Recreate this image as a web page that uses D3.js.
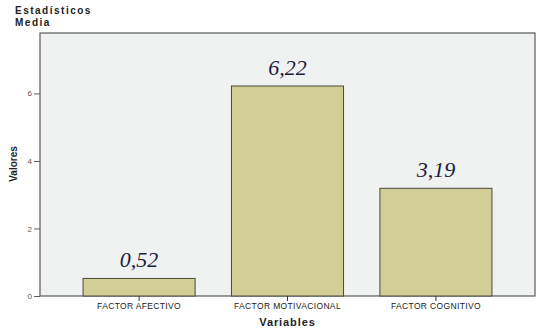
<!DOCTYPE html>
<html>
<head>
<meta charset="utf-8">
<script src="https://cdn.jsdelivr.net/npm/d3@7"></script>
<style>
  body { margin: 0; background: #fff; }
  svg { display: block; }
</style>
</head>
<body>
<div id="chart"></div>
<script>
    //Data
    var categories = ["FACTOR AFECTIVO", "FACTOR MOTIVACIONAL", "FACTOR COGNITIVO"];
    var values = [0.52, 6.22, 3.19];
    var valueLabels = ["0,52", "6,22", "3,19"];
    var yTicks = [0, 2, 4, 6];

    //Width, height and margins
    var width = 546, height = 334;
    var margin = {top: 33, right: 11, bottom: 38, left: 40};
    var sans = "'Liberation Sans', Arial, sans-serif";

    var svg = d3.select("#chart")
        .append("svg")
        .attr("width", width)
        .attr("height", height)

    //Scales
    var xScale = d3.scaleBand()
        .domain(categories)
        .range([margin.left, width - margin.right])
        .paddingInner(0.245)
        .paddingOuter(0.29)

    var yScale = d3.scaleLinear()
        .domain([0, 7.79])
        .range([height - margin.bottom, margin.top])

    //Plot background
    svg.append("rect")
        .attr("x", margin.left)
        .attr("y", margin.top)
        .attr("width", width - margin.left - margin.right)
        .attr("height", height - margin.top - margin.bottom)
        .attr("fill", "#f0f1f1")
        .attr("stroke", "#5c5c5c")
        .attr("stroke-width", 1.2)

    //Bars
    svg.append("g")
        .attr("class", "bars")
        .selectAll("rect")
        .data(values)
        .enter()
        .append("rect")
            .attr("x", (d, i) => xScale(categories[i]))
            .attr("y", d => yScale(d))
            .attr("width", xScale.bandwidth())
            .attr("height", d => yScale(0) - yScale(d))
            .attr("fill", "#d2cf96")
            .attr("stroke", "#4a4a40")
            .attr("stroke-width", 1)

    //Value labels
    svg.append("g")
        .attr("class", "valueLabels")
        .selectAll("text")
        .data(values)
        .enter()
        .append("text")
            .attr("x", (d, i) => xScale(categories[i]) + xScale.bandwidth() / 2)
            .attr("y", d => yScale(d) - 11)
            .attr("text-anchor", "middle")
            .text((d, i) => valueLabels[i])
                .style("font-family", "'Liberation Serif', 'DejaVu Serif', serif")
                .style("font-style", "italic")
                .style("font-size", "22px")
                .style("fill", "#1c1c38")

    //Y axis
    var yAxis = d3.axisLeft(yScale)
        .tickValues(yTicks)
        .tickSize(6)
        .tickPadding(2)
        .tickFormat(d3.format("d"))

    var gy = svg.append("g")
        .attr("transform", "translate(" + margin.left + ",0)")
        .call(yAxis)
    gy.select(".domain").remove()
    gy.selectAll("line").attr("stroke", "#5c5c5c")
    gy.selectAll("text")
        .style("font-family", sans)
        .style("font-size", "8px")
        .style("fill", "#555")

    //X axis
    var xAxis = d3.axisBottom(xScale)
        .tickSize(5)
        .tickPadding(2)

    var gx = svg.append("g")
        .attr("transform", "translate(0," + (height - margin.bottom) + ")")
        .call(xAxis)
    gx.select(".domain").remove()
    gx.selectAll("line").attr("stroke", "#333")
    gx.selectAll("text")
        .style("font-family", sans)
        .style("font-size", "8.5px")
        .style("letter-spacing", "0.35px")
        .style("fill", "#222")

    //Axis titles
    svg.append("text")
        .attr("x", (margin.left + width - margin.right) / 2)
        .attr("y", 326)
        .attr("text-anchor", "middle")
        .text("Variables")
            .style("font-family", sans)
            .style("font-weight", "bold")
            .style("font-size", "11px")
            .style("letter-spacing", "0.9px")
            .style("fill", "#222")

    svg.append("text")
        .attr("transform", "translate(17,164) rotate(-90)")
        .attr("text-anchor", "middle")
        .text("Valores")
            .style("font-family", sans)
            .style("font-weight", "bold")
            .style("font-size", "10px")
            .style("fill", "#222")

    //Chart title
    var titleLines = ["Estadísticos", "Media"];
    svg.append("g")
        .attr("class", "title")
        .selectAll("text")
        .data(titleLines)
        .enter()
        .append("text")
            .attr("x", 15)
            .attr("y", (d, i) => 14 + i * 11.5)
            .text(d => d)
                .style("font-family", sans)
                .style("font-weight", "bold")
                .style("font-size", "10px")
                .style("letter-spacing", "1.5px")
                .style("fill", "#222")
</script>
</body>
</html>
